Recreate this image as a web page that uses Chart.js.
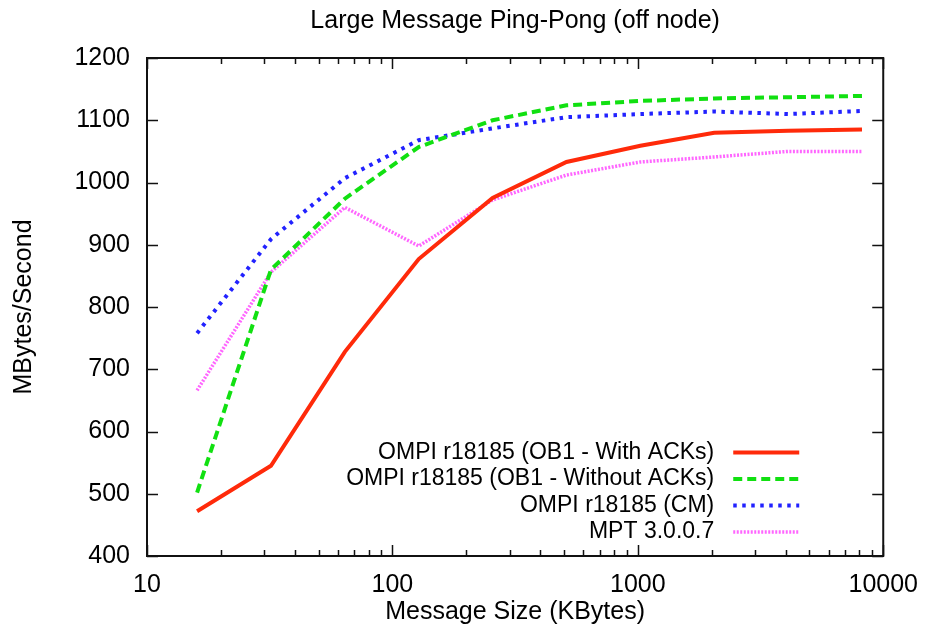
<!DOCTYPE html>
<html lang="en">
<head>
    <meta charset="UTF-8">
    <title>Large Message Ping-Pong (off node)</title>
    <script src="https://cdn.jsdelivr.net/npm/chart.js"></script>
    <style>
        body { margin: 0; background: #fff; }
        #pingpong { display: block; }
    </style>
</head>
<body>
    <canvas id="pingpong" width="932" height="639"></canvas>
    <script>
        // message sizes in KBytes
        const msgSizes = [16, 32, 64, 128, 256, 512, 1024, 2048, 4096, 8192];

        // MBytes/Second for each run
        const ob1WithAcks = [472, 545, 728, 877, 975, 1033, 1059, 1080, 1083, 1085];
        const ob1WithoutAcks = [502, 860, 974, 1057, 1100, 1124, 1131, 1135, 1137, 1139];
        const cmRun = [758, 909, 1007, 1068, 1087, 1105, 1110, 1114, 1110, 1115];
        const mptRun = [666, 856, 960, 898, 972, 1012, 1033, 1041, 1050, 1050];

        const seriesNames = [
            'OMPI r18185 (OB1 - With ACKs)',
            'OMPI r18185 (OB1 - Without ACKs)',
            'OMPI r18185 (CM)',
            'MPT 3.0.0.7'
        ];

        const xTickLabels = [10, 100, 1000, 10000];
        const yTickLabels = [400, 500, 600, 700, 800, 900, 1000, 1100, 1200];

        Chart.defaults.font.family = '"Liberation Sans", Arial, Helvetica, sans-serif';
        Chart.defaults.color = '#000';

        function toPoints(values) {
            return values.map((v, i) => ({ x: msgSizes[i], y: v }));
        }

        // log axis ticks: decades plus 2..9 in between
        function xTickValues() {
            const vals = [];
            for (let i = 0; i < xTickLabels.length; i++) {
                vals.push(xTickLabels[i]);
                if (i < xTickLabels.length - 1) {
                    for (let k = 2; k <= 9; k++) vals.push(xTickLabels[i] * k);
                }
            }
            return vals;
        }

        // gnuplot style box with inward ticks on all four sides
        const framePlugin = {
            id: 'frame',
            afterLayout(chart) {
                // center the title over the plot box
                if (chart.titleBlock) {
                    chart.titleBlock.left = chart.chartArea.left;
                    chart.titleBlock.right = chart.chartArea.right;
                }
            },
            afterDraw(chart) {
                const ctx = chart.ctx;
                const a = chart.chartArea;
                const xs = chart.scales.x;
                const ys = chart.scales.y;
                ctx.save();
                ctx.strokeStyle = '#111';
                ctx.lineWidth = 1.5;
                ctx.beginPath();
                xs.ticks.forEach(t => {
                    const px = Math.round(xs.getPixelForValue(t.value)) + 0.5;
                    const len = xTickLabels.includes(t.value) ? 11 : 6;
                    ctx.moveTo(px, a.bottom); ctx.lineTo(px, a.bottom - len);
                    ctx.moveTo(px, a.top); ctx.lineTo(px, a.top + len);
                });
                ys.ticks.forEach(t => {
                    const py = Math.round(ys.getPixelForValue(t.value)) + 0.5;
                    ctx.moveTo(a.left, py); ctx.lineTo(a.left + 11, py);
                    ctx.moveTo(a.right, py); ctx.lineTo(a.right - 11, py);
                });
                ctx.stroke();
                ctx.lineWidth = 2;
                ctx.strokeRect(a.left, a.top, a.right - a.left, a.bottom - a.top);

                // key, bottom right inside the box
                const ds = chart.data.datasets;
                ctx.font = '23px "Liberation Sans", Arial, sans-serif';
                ctx.textAlign = 'right';
                ctx.textBaseline = 'middle';
                ds.forEach((d, i) => {
                    const y = a.bottom - 24 - (ds.length - 1 - i) * 26.5;
                    ctx.fillStyle = '#000';
                    ctx.fillText(d.label, a.right - 169, y);
                    ctx.beginPath();
                    ctx.strokeStyle = d.borderColor;
                    ctx.lineWidth = d.borderWidth;
                    ctx.setLineDash(d.borderDash || []);
                    ctx.moveTo(a.right - 150, y);
                    ctx.lineTo(a.right - 84, y);
                    ctx.stroke();
                    ctx.setLineDash([]);
                });
                ctx.restore();
            }
        };

        const ctx = document.getElementById('pingpong').getContext('2d');
        new Chart(ctx, {
            type: 'line',
            data: {
                datasets: [
                    {
                        label: seriesNames[0],
                        data: toPoints(ob1WithAcks),
                        borderColor: '#ff2a0a',
                        borderWidth: 4,
                    },
                    {
                        label: seriesNames[1],
                        data: toPoints(ob1WithoutAcks),
                        borderColor: '#11e011',
                        borderWidth: 4,
                        borderDash: [9, 5]
                    },
                    {
                        label: seriesNames[2],
                        data: toPoints(cmRun),
                        borderColor: '#2222ff',
                        borderWidth: 4,
                        borderDash: [3.5, 5.5]
                    },
                    {
                        label: seriesNames[3],
                        data: toPoints(mptRun),
                        borderColor: '#ff66ff',
                        borderWidth: 3.5,
                        borderDash: [2, 1.5]
                    }
                ]
            },
            options: {
                responsive: false,
                animation: false,
                layout: { padding: { left: 0, right: 43, top: 0, bottom: 0 } },
                elements: {
                    point: { radius: 0 },
                    line: { tension: 0, fill: false }
                },
                plugins: {
                    legend: { display: false },
                    tooltip: { enabled: false },
                    title: {
                        display: true,
                        text: 'Large Message Ping-Pong (off node)',
                        font: { size: 25, weight: 'normal', lineHeight: 1.2 },
                        color: '#000',
                        padding: { top: 6, bottom: 22 }
                    }
                },
                scales: {
                    x: {
                        type: 'logarithmic',
                        min: 10,
                        max: 10000,
                        afterBuildTicks: (axis) => {
                            axis.ticks = xTickValues().map(v => ({ value: v, major: xTickLabels.includes(v) }));
                        },
                        afterFit: (scale) => { scale.height = 83; },
                        grid: { display: true, drawOnChartArea: false, drawTicks: false },
                        border: { display: false },
                        ticks: {
                            autoSkip: false,
                            maxRotation: 0,
                            padding: 14,
                            font: { size: 25 },
                            callback: (value) => xTickLabels.includes(value) ? String(value) : ''
                        },
                        title: {
                            display: true,
                            text: 'Message Size (KBytes)',
                            font: { size: 25 },
                            padding: { top: 0, bottom: 12 }
                        }
                    },
                    y: {
                        min: yTickLabels[0],
                        max: yTickLabels[yTickLabels.length - 1],
                        afterFit: (scale) => { scale.width = 147; },
                        grid: { display: true, drawOnChartArea: false, drawTicks: false },
                        border: { display: false },
                        ticks: {
                            stepSize: 100,
                            padding: 17,
                            font: { size: 25 },
                            callback: (value) => String(value)
                        },
                        title: {
                            display: true,
                            text: 'MBytes/Second',
                            font: { size: 25 },
                            padding: { top: 9, bottom: 0 }
                        }
                    }
                }
            },
            plugins: [framePlugin]
        });
    </script>
</body>
</html>
